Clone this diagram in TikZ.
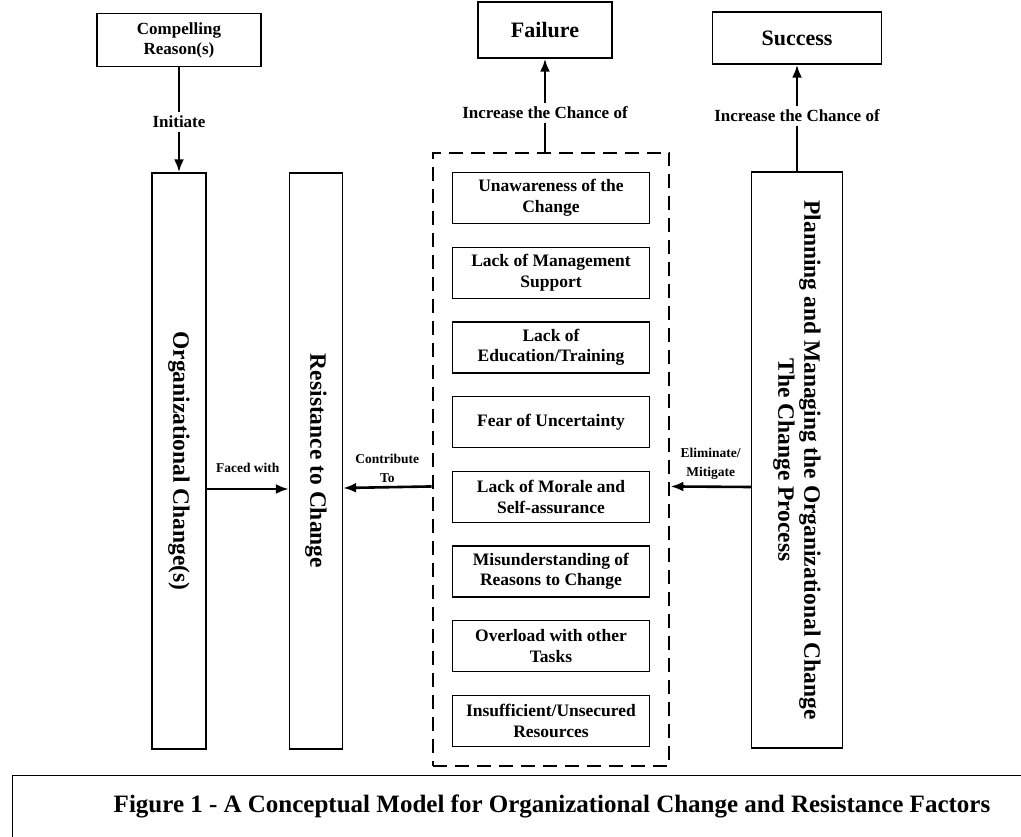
\documentclass[tikz,border=0pt]{standalone}
\usepackage{fontspec}
\setmainfont{Liberation Serif}
\usetikzlibrary{positioning, arrows.meta, fit, calc}
\tikzset{box/.style={rectangle,draw,line width=1.3pt,align=center,inner sep=2pt},
    fbox/.style={box,minimum width=197pt,minimum height=51pt,font=\fontsize{17.5}{20.5}\selectfont\bfseries},
    tall/.style={box,minimum height=576pt},
    lbl/.style={font=\fontsize{17}{20}\selectfont\bfseries,align=center},
    slbl/.style={font=\fontsize{13.5}{19}\selectfont\bfseries,align=center,inner sep=3pt},
    vlbl/.style={rotate=-90,align=center,font=\fontsize{23.5}{26}\selectfont\bfseries},
    arr/.style={line width=2.6pt,-{Latex[length=13pt,width=10pt]}},
    ln/.style={line width=2.6pt}}

\begin{document}
\begin{tikzpicture}[x=1pt,y=-1pt,node distance=74.7pt]
    \useasboundingbox (0,0) rectangle (1021,837);

    \node[box, lbl, minimum width=164pt, minimum height=53pt] (reason) at (179,40) {Compelling\\Reason(s)};
    \node[box, minimum width=134pt, minimum height=56pt, font=\fontsize{22}{25}\selectfont\bfseries] (failure) at (545,30) {Failure};
    \node[box, minimum width=169pt, minimum height=52pt, font=\fontsize{22}{25}\selectfont\bfseries] (success) at (797,38) {Success};

    \node[tall, minimum width=54pt, label={[vlbl]center:Organizational Change(s)}] (orgchg) at (179,461) {};
    \node[tall, minimum width=53pt, label={[vlbl]center:Resistance to Change}] (resist) at (316,461) {};
    \node[tall, minimum width=91pt, label={[vlbl]center:Planning and Managing the Organizational Change\\The Change Process}] (planning) at (797,460) {};

    \node[fbox] (f1) at (551,198) {Unawareness of the\\Change};
    \node[fbox, below of=f1] (f2) {Lack of Management\\Support};
    \node[fbox, below of=f2] (f3) {Lack of\\Education/Training};
    \node[fbox, below of=f3] (f4) {Fear of Uncertainty};
    \node[fbox, below of=f4] (f5) {Lack of Morale and\\Self-assurance};
    \node[fbox, below of=f5] (f6) {Misunderstanding of\\Reasons to Change};
    \node[fbox, below of=f6] (f7) {Overload with other\\Tasks};
    \node[fbox, below of=f7] (f8) {Insufficient/Unsecured\\Resources};
    \node[draw, line width=2.6pt, dash pattern=on 14pt off 8pt, inner sep=19pt, fit={(f1)(f8)}] (factors) {};

    \node[lbl] (initiate) at (179,122) {Initiate};
    \node[lbl] (inc1) at (545,113) {Increase the Chance of};
    \node[lbl] (inc2) at (797,116) {Increase the Chance of};

    \draw [ln] (reason) -- (initiate);
    \draw [arr] (initiate) -- (orgchg);
    \draw [ln] (inc1) -- (inc1 |- factors.north);
    \draw [arr] (inc1) -- (failure);
    \draw [ln] (inc2) -- (planning);
    \draw [arr] (inc2) -- (success);

    \draw [arr] ([yshift=-28pt]orgchg.east) -- ([yshift=-28pt]resist.west) node[midway, above, slbl, yshift=12pt] (faced) {Faced with};
    \draw [arr] ([yshift=-27pt]factors.west) -- ([yshift=-27pt]resist.east) node[midway, above, slbl] (contrib) {Contribute\\To};
    \draw [arr] ([yshift=-27pt]planning.west) -- ([yshift=-27pt]factors.east) node[midway, above, slbl, yshift=3pt] (elim) {Eliminate/\\Mitigate};

    \draw [line width=1pt] (12,837) -- (12,775) -- (1021,775);
    \node[font=\fontsize{25}{29}\selectfont\bfseries] (caption) at (552,806) {Figure 1 - A Conceptual Model for Organizational Change and Resistance Factors};
\end{tikzpicture}
\end{document}
